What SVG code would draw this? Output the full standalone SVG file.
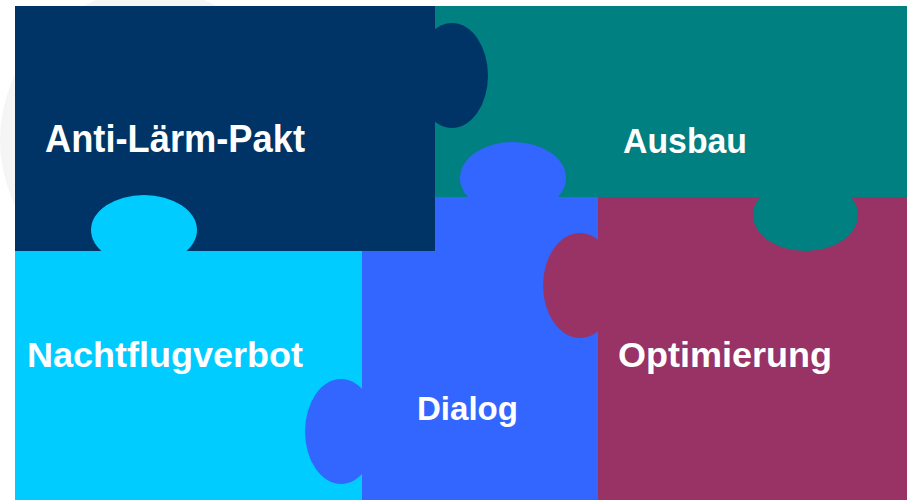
<svg xmlns="http://www.w3.org/2000/svg" width="907" height="500" viewBox="0 0 907 500">
<style>
text{font-family:"Liberation Sans",Arial,sans-serif;font-weight:bold;fill:#ffffff;}
.navy{fill:#003366}.teal{fill:#008080}.cyan{fill:#00CCFF}.blue{fill:#3366FF}.maroon{fill:#993366}
</style>
<rect width="907" height="500" fill="#ffffff"/>
<circle cx="150" cy="140" r="150" fill="#f5f5f5"/>
<g id="ausbau">
<rect class="teal" x="435" y="6" width="472" height="192"/>
<ellipse class="teal" cx="805.5" cy="215" rx="52.5" ry="36"/>
</g>
<g id="dialog">
<rect class="blue" x="362" y="197" width="236" height="303"/>
<ellipse class="blue" cx="513" cy="178" rx="53" ry="36"/>
<ellipse class="blue" cx="341" cy="431.5" rx="36" ry="52.5"/>
</g>
<g id="anti-laerm-pakt">
<rect class="navy" x="15" y="6" width="420" height="245"/>
<ellipse class="navy" cx="452" cy="75.5" rx="36" ry="52.5"/>
</g>
<g id="nachtflugverbot">
<rect class="cyan" x="15" y="251" width="347" height="249"/>
<ellipse class="cyan" cx="144" cy="230" rx="53" ry="35"/>
<ellipse class="blue" cx="341" cy="431.5" rx="36" ry="52.5"/>
</g>
<g id="optimierung">
<rect class="maroon" x="598" y="197" width="309" height="303"/>
<ellipse class="maroon" cx="580" cy="285.5" rx="37" ry="52.5"/>
<ellipse class="teal" cx="805.5" cy="215" rx="52.5" ry="36"/>
</g>
<g id="labels">
<text x="45" y="152" font-size="38" textLength="260" lengthAdjust="spacingAndGlyphs">Anti-Lärm-Pakt</text>
<text x="623" y="153" font-size="35" textLength="124" lengthAdjust="spacingAndGlyphs">Ausbau</text>
<text x="27" y="367" font-size="35" textLength="276" lengthAdjust="spacingAndGlyphs">Nachtflugverbot</text>
<text x="417" y="420" font-size="34" textLength="101" lengthAdjust="spacingAndGlyphs">Dialog</text>
<text x="618" y="367" font-size="35" textLength="214" lengthAdjust="spacingAndGlyphs">Optimierung</text>
</g>
<g id="connectors"></g>
</svg>
